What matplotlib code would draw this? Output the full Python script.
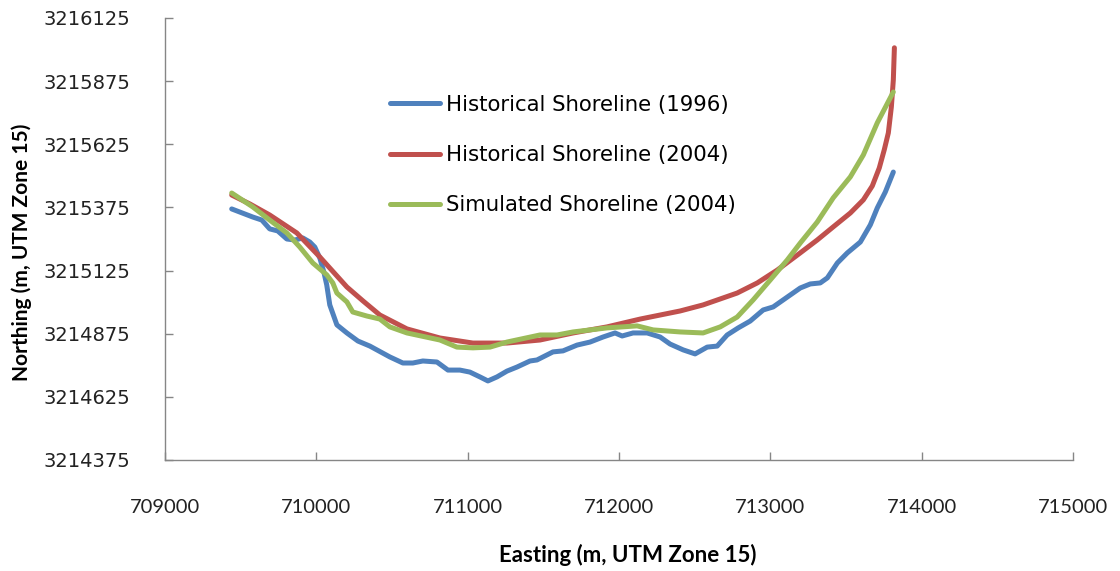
import matplotlib
matplotlib.use("Agg")
import matplotlib.pyplot as plt
import numpy as np

plt.rcParams['font.family'] = ['Lato', 'DejaVu Sans']

# Shoreline positions (UTM Zone 15, metres)
east_1996 = [709441, 709580, 709640, 709692, 709745, 709805, 709858, 709911, 709957,
             709990, 710023, 710050, 710069, 710089, 710136, 710202, 710275, 710354,
             710486, 710572, 710638, 710704, 710797, 710870, 710949, 711015, 711081,
             711134, 711194, 711260, 711326, 711412, 711458, 711564, 711630, 711723,
             711809, 711895, 711974, 712021, 712093, 712186, 712272, 712338, 712424,
             712503, 712583, 712649, 712715, 712788, 712867, 712953, 713019, 713112,
             713198, 713264, 713330, 713377, 713443, 713509, 713595, 713661, 713707,
             713760, 713813]
north_1996 = [3215369, 3215337, 3215325, 3215290, 3215282, 3215250, 3215246, 3215254,
              3215238, 3215218, 3215175, 3215119, 3215068, 3214989, 3214910, 3214878,
              3214846, 3214826, 3214783, 3214759, 3214759, 3214767, 3214763, 3214731,
              3214731, 3214723, 3214704, 3214688, 3214704, 3214727, 3214743, 3214767,
              3214771, 3214803, 3214807, 3214830, 3214842, 3214862, 3214878, 3214866,
              3214878, 3214878, 3214862, 3214834, 3214811, 3214795, 3214822, 3214826,
              3214870, 3214898, 3214925, 3214969, 3214981, 3215020, 3215056, 3215072,
              3215076, 3215096, 3215155, 3215195, 3215238, 3215306, 3215373, 3215436,
              3215515]

east_2004 = [709441, 709560, 709692, 709871, 710023, 710202, 710308, 710420, 710599,
             710817, 711035, 711260, 711478, 711697, 711921, 712140, 712404, 712556,
             712781, 712914, 713046, 713198, 713310, 713416, 713529, 713615, 713674,
             713720, 713753, 713780, 713800, 713813, 713820]
north_2004 = [3215424, 3215389, 3215345, 3215274, 3215179, 3215060, 3215005, 3214949,
              3214894, 3214858, 3214838, 3214838, 3214850, 3214878, 3214902, 3214933,
              3214965, 3214989, 3215036, 3215076, 3215127, 3215195, 3215246, 3215298,
              3215353, 3215405, 3215460, 3215531, 3215603, 3215670, 3215773, 3215880,
              3216007]

east_sim = [709441, 709580, 709692, 709805, 709891, 709977, 710069, 710109, 710136,
            710202, 710241, 710334, 710420, 710486, 710599, 710817, 710929, 711035,
            711148, 711260, 711478, 711591, 711697, 711921, 712120, 712226, 712404,
            712556, 712669, 712781, 712887, 713000, 713112, 713198, 713310, 713416,
            713529, 713615, 713707, 713813]
north_sim = [3215432, 3215377, 3215325, 3215274, 3215218, 3215155, 3215108, 3215076,
             3215036, 3215001, 3214961, 3214945, 3214933, 3214902, 3214878, 3214850,
             3214822, 3214819, 3214822, 3214842, 3214870, 3214870, 3214882, 3214898,
             3214906, 3214890, 3214882, 3214878, 3214902, 3214941, 3215009, 3215088,
             3215167, 3215234, 3215317, 3215413, 3215496, 3215583, 3215710, 3215832]

x_ticks = np.arange(709000, 715001, 1000)
y_ticks = np.arange(3214375, 3216126, 250)

fig = plt.figure(figsize=(11.2, 5.71), dpi=100)
ax = fig.add_axes([0.1473, 0.1944, 0.8107, 0.7741])

lw = 3.6
ax.plot(east_1996, north_1996, color='#4F81BD', lw=lw, solid_capstyle='round',
        solid_joinstyle='round', label='Historical Shoreline (1996)')
ax.plot(east_2004, north_2004, color='#C0504D', lw=lw, solid_capstyle='round',
        solid_joinstyle='round', label='Historical Shoreline (2004)')
ax.plot(east_sim, north_sim, color='#9BBB59', lw=lw, solid_capstyle='round',
        solid_joinstyle='round', label='Simulated Shoreline (2004)')

ax.set_xlim(709000, 715000)
ax.set_ylim(3214375, 3216125)
ax.set_xticks(x_ticks)
ax.set_yticks(y_ticks)
ax.set_xticklabels([str(v) for v in x_ticks], fontsize=14.5)
ax.set_yticklabels([str(v) for v in y_ticks], family=['DejaVu Sans'], fontsize=14)

for side in ['top', 'right']:
    ax.spines[side].set_visible(False)
for side in ['left', 'bottom']:
    ax.spines[side].set_color('#868686')
    ax.spines[side].set_linewidth(1.0)

ax.tick_params(axis='both', direction='in', length=6, width=1.0, color='#868686',
               labelcolor='#222222')
ax.tick_params(axis='x', pad=28)
ax.tick_params(axis='y', pad=25)

ax.set_xlabel('Easting (m, UTM Zone 15)', fontsize=16, fontweight='bold', va='center')
ax.set_ylabel('Northing (m, UTM Zone 15)', fontsize=15, fontweight='bold', va='center')
ax.xaxis.set_label_coords(0.51, -0.215)
ax.yaxis.set_label_coords(-0.158, 0.47)

ax.legend(loc='upper left', bbox_to_anchor=(0.248, 0.826), frameon=False,
          prop={'family': 'DejaVu Sans', 'size': 15.3},
          handlelength=2.35, handletextpad=0.28, labelspacing=1.42,
          borderpad=0, borderaxespad=0)

fig.savefig('out.png', dpi=100)
